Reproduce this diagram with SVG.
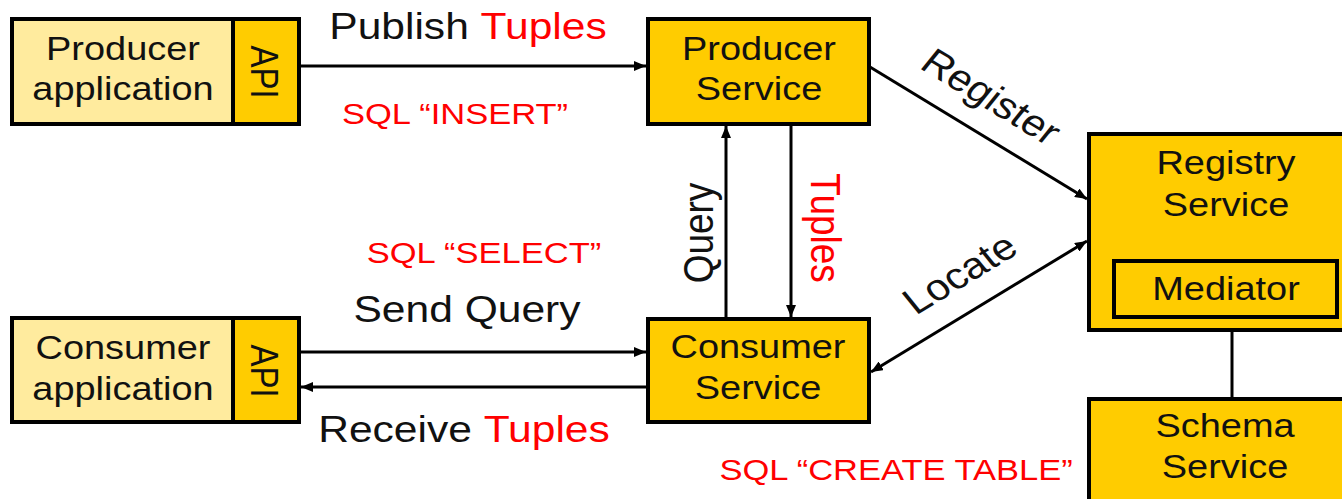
<svg xmlns="http://www.w3.org/2000/svg" width="1342" height="499" viewBox="0 0 1342 499">
  <style>
    .app { fill: #FFEB9E; stroke: #000; stroke-width: 4; }
    .svc { fill: #FFCC00; stroke: #000; stroke-width: 4; }
    .wire { stroke: #000; stroke-width: 3; fill: none; }
    text { font-family: "Liberation Sans", Arial, sans-serif; fill: #111; text-anchor: middle; }
    .node { font-size: 33px; }
    .edge { font-size: 37px; }
    .sql { font-size: 30px; fill: #FF0000; }
    .red { fill: #FF0000; }
  </style>
  <defs>
    <marker id="head" viewBox="0 0 12 10" refX="12" refY="5" markerWidth="12" markerHeight="10" markerUnits="userSpaceOnUse" orient="auto-start-reverse">
      <path d="M0,0 L12,5 L0,10 z" fill="#000"/>
    </marker>
  </defs>

  <!-- connectors -->
  <g id="connectors">
    <line class="wire" x1="299" y1="66" x2="646" y2="66" marker-end="url(#head)"/>
    <line class="wire" x1="870" y1="67" x2="1087" y2="199" marker-end="url(#head)"/>
    <line class="wire" x1="871" y1="372" x2="1087" y2="241" marker-start="url(#head)" marker-end="url(#head)"/>
    <line class="wire" x1="726" y1="319" x2="726" y2="126" marker-end="url(#head)"/>
    <line class="wire" x1="791" y1="124" x2="791" y2="317" marker-end="url(#head)"/>
    <line class="wire" x1="299" y1="352" x2="646" y2="352" marker-end="url(#head)"/>
    <line class="wire" x1="648" y1="387" x2="301" y2="387" marker-end="url(#head)"/>
    <line class="wire" x1="1232" y1="330" x2="1232" y2="399"/>

    <text class="edge" transform="translate(468,39) scale(1.15,1)">Publish <tspan class="red">Tuples</tspan></text>
    <text class="sql" transform="translate(455,124) scale(1.15,1)">SQL “INSERT”</text>
    <text class="sql" transform="translate(484,263) scale(1.15,1)">SQL “SELECT”</text>
    <text class="edge" transform="translate(467,322) scale(1.15,1)">Send Query</text>
    <text class="edge" transform="translate(464,442) scale(1.15,1)">Receive <tspan class="red">Tuples</tspan></text>
    <text class="sql" transform="translate(896,480) scale(1.15,1)">SQL “CREATE TABLE”</text>
    <text class="edge" transform="translate(713,233) scale(1.15,1) rotate(-90)">Query</text>
    <text class="edge red" transform="translate(811,228) scale(1.15,1) rotate(90)">Tuples</text>
    <text class="edge" transform="translate(983,107) scale(1.15,1) rotate(35)">Register</text>
    <text class="edge" transform="translate(968,284) scale(1.15,1) rotate(-35)">Locate</text>
  </g>

  <!-- producer application with its API -->
  <g id="producer-app">
    <rect class="app" x="12" y="19" width="221" height="105"/>
    <rect class="svc" x="233" y="19" width="66" height="105"/>
    <text class="node" transform="translate(123,60) scale(1.15,1)">Producer</text>
    <text class="node" transform="translate(123,100) scale(1.15,1)">application</text>
    <text class="node" transform="translate(251,72) scale(1.15,1) rotate(90)">API</text>
  </g>

  <!-- consumer application with its API -->
  <g id="consumer-app">
    <rect class="app" x="12" y="318" width="221" height="104"/>
    <rect class="svc" x="233" y="318" width="66" height="104"/>
    <text class="node" transform="translate(123,359) scale(1.15,1)">Consumer</text>
    <text class="node" transform="translate(123,400) scale(1.15,1)">application</text>
    <text class="node" transform="translate(251,371) scale(1.15,1) rotate(90)">API</text>
  </g>

  <g id="producer-service">
    <rect class="svc" x="648" y="19" width="221" height="105"/>
    <text class="node" transform="translate(759,60) scale(1.15,1)">Producer</text>
    <text class="node" transform="translate(759,100) scale(1.15,1)">Service</text>
  </g>

  <g id="consumer-service">
    <rect class="svc" x="648" y="319" width="221" height="103"/>
    <text class="node" transform="translate(758,358) scale(1.15,1)">Consumer</text>
    <text class="node" transform="translate(758,399) scale(1.15,1)">Service</text>
  </g>

  <g id="registry-service">
    <rect class="svc" x="1089" y="134" width="260" height="196"/>
    <text class="node" transform="translate(1226,174) scale(1.15,1)">Registry</text>
    <text class="node" transform="translate(1226,216) scale(1.15,1)">Service</text>
  </g>

  <g id="mediator">
    <rect class="svc" x="1114" y="261" width="223" height="56"/>
    <text class="node" transform="translate(1226,300) scale(1.15,1)">Mediator</text>
  </g>

  <g id="schema-service">
    <rect class="svc" x="1089" y="399" width="260" height="110"/>
    <text class="node" transform="translate(1225,437) scale(1.15,1)">Schema</text>
    <text class="node" transform="translate(1225,478) scale(1.15,1)">Service</text>
  </g>
</svg>
